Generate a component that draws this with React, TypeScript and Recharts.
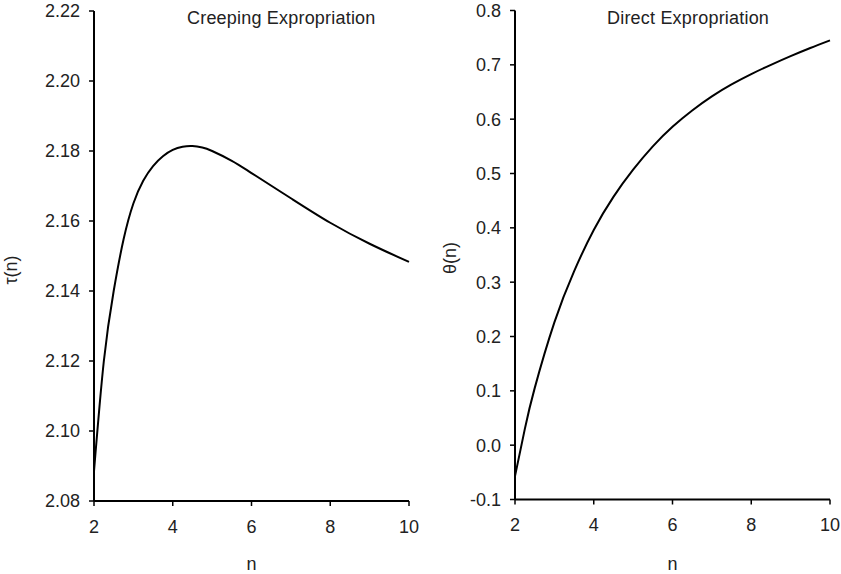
import React from 'react';
import { LineChart, Line, XAxis, YAxis } from 'recharts';

// n values (x) and the two curves
const nCreeping = [2, 2.25, 2.5, 2.75, 3, 3.25, 3.5, 3.75, 4, 4.25, 4.5, 4.75, 5, 5.5, 6, 7, 8, 9, 10];
const tau = [2.0885, 2.12, 2.14, 2.1547, 2.165, 2.1715, 2.1757, 2.1785, 2.1803, 2.1812, 2.1814, 2.181, 2.18, 2.1772, 2.1737, 2.1665, 2.1595, 2.1535, 2.1483];

const nDirect = [2, 2.25, 2.5, 3, 3.5, 4, 4.5, 5, 5.5, 6, 6.5, 7, 7.5, 8, 8.5, 9, 9.5, 10];
const theta = [-0.057, 0.03, 0.105, 0.226, 0.32, 0.396, 0.457, 0.507, 0.55, 0.586, 0.616, 0.642, 0.664, 0.683, 0.7, 0.716, 0.731, 0.745];

const xTicks = [2, 4, 6, 8, 10];
const tauTicks = [2.08, 2.1, 2.12, 2.14, 2.16, 2.18, 2.2, 2.22];
const thetaTicks = [-0.1, 0, 0.1, 0.2, 0.3, 0.4, 0.5, 0.6, 0.7, 0.8];

const font = '"Liberation Sans", Arial, sans-serif';
const tickStyle = { fill: '#222', fontSize: 18, fontFamily: font };
const axisLine = { stroke: '#000', strokeWidth: 2 };
const tickLine = { stroke: '#000', strokeWidth: 1.5 };

const creepingData = nCreeping.map((n, i) => ({ n, v: tau[i] }));
const directData = nDirect.map((n, i) => ({ n, v: theta[i] }));

function Panel({ data, left, width, yWidth, top, xHeight, domain, ticks, digits }: any) {
  return (
    <div style={{ position: 'absolute', left, top: 0 }}>
      <LineChart width={width} height={574} data={data} margin={{ top, right: 11, left: 0, bottom: 0 }}>
        <XAxis
          type="number"
          dataKey="n"
          domain={[2, 10]}
          ticks={xTicks}
          height={xHeight}
          tickSize={5}
          tickMargin={14}
          axisLine={axisLine}
          tickLine={tickLine}
          tick={tickStyle}
          label={{ value: 'n', position: 'insideBottom', offset: 4, fill: '#222', fontSize: 18, fontFamily: font }}
        />
        <YAxis
          type="number"
          domain={domain}
          ticks={ticks}
          width={yWidth}
          tickSize={5}
          tickMargin={9}
          axisLine={axisLine}
          tickLine={tickLine}
          tick={tickStyle}
          tickFormatter={(v: number) => v.toFixed(digits)}
        />
        <Line type="natural" dataKey="v" stroke="#000" strokeWidth={2} dot={false} isAnimationActive={false} />
      </LineChart>
    </div>
  );
}

export default function App() {
  return (
    <div style={{ position: 'absolute', left: 0, top: 0, width: 841, height: 574, background: '#fff', fontFamily: font }}>
      <Panel data={creepingData} left={0} width={420} yWidth={94} top={11} xHeight={73} domain={[2.08, 2.22]} ticks={tauTicks} digits={2} />
      <Panel data={directData} left={420} width={421} yWidth={95} top={10.5} xHeight={74.5} domain={[-0.1, 0.8]} ticks={thetaTicks} digits={1} />
      <svg width={841} height={574} style={{ position: 'absolute', left: 0, top: 0, pointerEvents: 'none' }}>
        <text x={187} y={24} fontSize={18} fontFamily={font} fill="#222" letterSpacing={0.2}>Creeping Expropriation</text>
        <text x={607} y={24} fontSize={18} fontFamily={font} fill="#222" letterSpacing={0.2}>Direct Expropriation</text>
        <text transform="translate(17,270) rotate(-90)" textAnchor="middle" fontSize={18} fontFamily={font} fill="#222">τ(n)</text>
        <text transform="translate(456,258) rotate(-90)" textAnchor="middle" fontSize={18} fontFamily={font} fill="#222">θ(n)</text>
      </svg>
    </div>
  );
}
